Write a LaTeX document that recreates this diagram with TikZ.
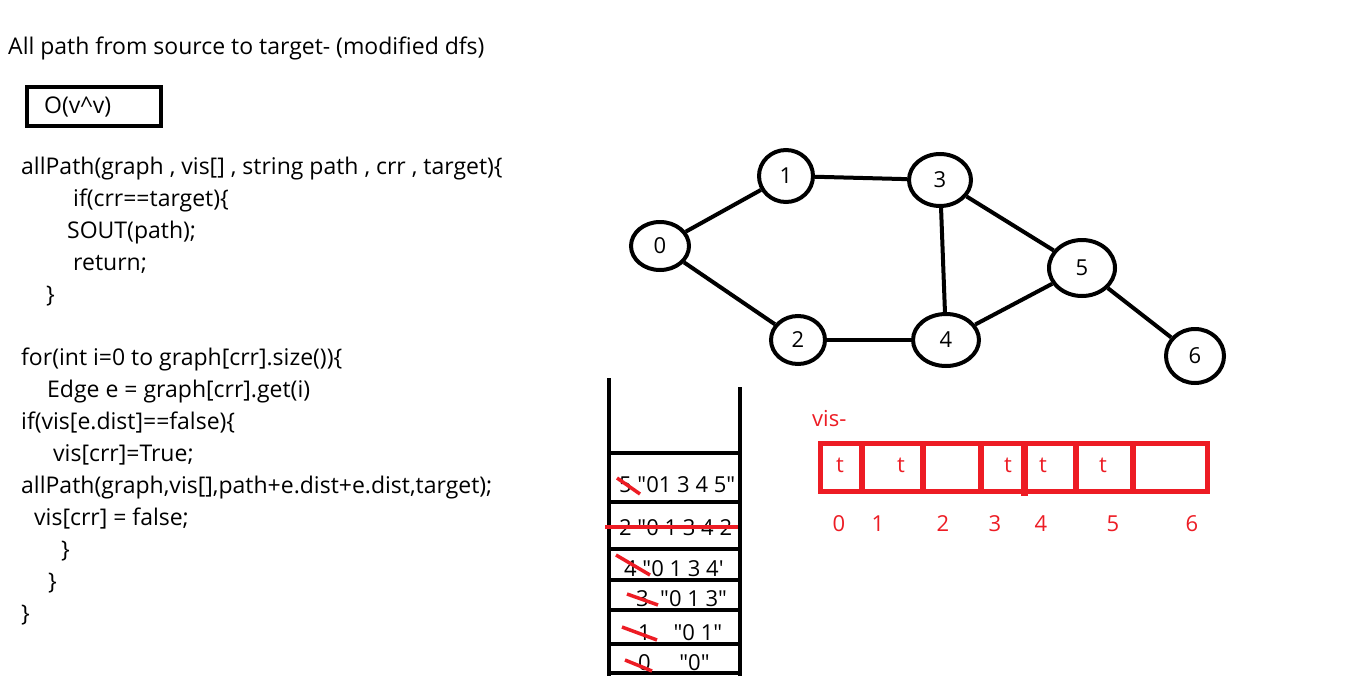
\documentclass[tikz,border=0pt]{standalone}
\usepackage{fontspec}
\setmainfont{Open Sans}[Ligatures=TeXOff]
\usetikzlibrary{shapes.geometric}
\definecolor{pred}{HTML}{ED1C24}
\newcommand\dq{\char34\relax}
\newcommand\sq{\char39\relax}
\begin{document}
\begin{tikzpicture}[x=1pt,y=-1pt,
  code/.style={anchor=base west,inner sep=0pt,font=\fontsize{23}{26}\selectfont},
  vtx/.style={draw,ellipse,line width=4pt,inner sep=0pt,font=\fontsize{22}{26}\selectfont},
  edge/.style={line width=4pt},
  stk/.style={line width=4pt},
  strike/.style={draw=pred,line width=3.5pt},
  rtext/.style={text=pred,anchor=base,inner sep=0pt,font=\fontsize{22}{26}\selectfont},
  stext/.style={anchor=base west,inner sep=0pt,font=\fontsize{22}{26}\selectfont}
]
\useasboundingbox[fill=white] (0,0) rectangle (1367,677);

% title and complexity box
\node[code] (title) at (8,55) {All path from source to target- (modified dfs)};
\node[draw,line width=4pt,minimum width=134pt,minimum height=39pt,inner sep=0pt] (cbox) at (94,106.5) {};
\node[code] (ctext) at (44,113) {O(v\char`\^v)};

% code upper block
\node[code] (c1) at (21,174) {allPath(graph , vis[] , string path , crr , target)\{};
\node[code] (c2) at (73,206) {if(crr==target)\{};
\node[code] (c3) at (67,238) {SOUT(path);};
\node[code] (c4) at (73,270) {return;};
\node[code] (c5) at (46,302) {\}};
% code lower block
\node[code] (d1) at (21,365) {for(int i=0 to graph[crr].size())\{};
\node[code] (d2) at (47,397) {Edge e = graph[crr].get(i)};
\node[code] (d3) at (21,429) {if(vis[e.dist]==false)\{};
\node[code] (d4) at (53,461) {vis[crr]=True;};
\node[code] (d5) at (21,493) {allPath(graph,vis[],path+e.dist+e.dist,target);};
\node[code] (d6) at (34,525) {vis[crr] = false;};
\node[code] (d7) at (61,557) {\}};
\node[code] (d8) at (48,589) {\}};
\node[code] (d9) at (21,621) {\}};

% graph
\node[vtx,minimum width=58pt,minimum height=48pt] (n0) at (660,246) {0};
\node[vtx,minimum width=54pt,minimum height=52pt] (n1) at (786,176) {1};
\node[vtx,minimum width=62pt,minimum height=52pt] (n3) at (940,180) {3};
\node[vtx,minimum width=66pt,minimum height=56pt] (n5) at (1082,268) {5};
\node[vtx,minimum width=54pt,minimum height=48pt] (n2) at (798,340) {2};
\node[vtx,minimum width=66pt,minimum height=52pt] (n4) at (946,340) {4};
\node[vtx,minimum width=58pt,minimum height=54pt] (n6) at (1195,356) {6};
\draw[edge] (n0) -- (n1);
\draw[edge] (n1) -- (n3);
\draw[edge] (n3) -- (n4);
\draw[edge] (n3) -- (n5);
\draw[edge] (n0) -- (n2);
\draw[edge] (n2) -- (n4);
\draw[edge] (n4) -- (n5);
\draw[edge] (n5) -- (n6);

% stack
\draw[stk] (609,378) -- (609,676);
\draw[stk] (740,387) -- (740,676);
\foreach \yy in {453,502,549,580,610,644,673} \draw[stk] (609,\yy) -- (740,\yy);
\node[stext] (s1) at (619,492) {5 \dq01 3 4 5\dq};
\node[stext] (s2) at (619,535) {2 \dq0 1 3 4 2};
\node[stext] (s3) at (624,576) {4 \dq0 1 3 4\sq};
\node[stext] (s4) at (636,606) {3 \ \dq0 1 3\dq};
\node[stext] (s5) at (638,640) {1 \ \ \ \dq0 1\dq};
\node[stext] (s6) at (638,670) {0 \ \ \ \ \dq0\dq};
\draw[strike] (617,478) -- (640,494);
\draw[strike] (605,527) -- (738,527);
\draw[strike] (616,555) -- (650,575);
\draw[strike] (627,594) -- (658,605);
\draw[strike] (622,627) -- (657,640);
\draw[strike] (625,660) -- (652,671);

% vis array
\node[rtext,anchor=base west] (vis) at (812,426) {vis-};
\draw[pred,line width=5pt] (820,443) rectangle (1207,491);
\foreach \xx in {862,923,981,1076,1133} \draw[pred,line width=6pt] (\xx,443) -- (\xx,491);
\draw[pred,line width=7pt] (1024,443) -- (1024,496);
\node[rtext] (t0) at (840,472) {t};
\node[rtext] (t1) at (901,472) {t};
\node[rtext] (t3) at (1008,472) {t};
\node[rtext] (t4) at (1043,472) {t};
\node[rtext] (t5) at (1103,472) {t};
\node[rtext] (i0) at (839,531) {0};
\node[rtext] (i1) at (878,531) {1};
\node[rtext] (i2) at (943,531) {2};
\node[rtext] (i3) at (995,531) {3};
\node[rtext] (i4) at (1041,531) {4};
\node[rtext] (i5) at (1113,531) {5};
\node[rtext] (i6) at (1192,531) {6};
\end{tikzpicture}
\end{document}
